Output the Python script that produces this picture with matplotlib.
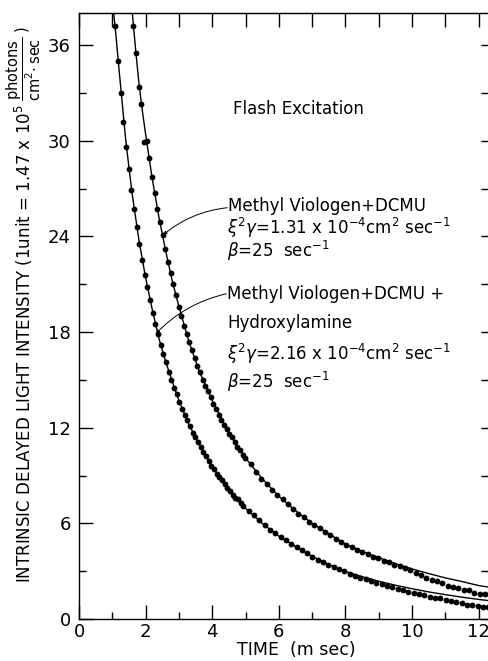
import matplotlib
matplotlib.use("Agg")
import matplotlib.pyplot as plt
from matplotlib.ticker import MultipleLocator

plt.rcParams['font.family'] = ['DejaVu Sans']
plt.rcParams['mathtext.fontset'] = 'dejavusans'

# Methyl Viologen + DCMU: theoretical curve
fit_t_mv = [1.5, 1.6, 1.7, 1.8, 1.9, 2.0, 2.2, 2.4, 2.6, 2.8, 3.0, 3.3, 3.6, 4.0, 4.5,
            5.0, 5.5, 6.0, 6.5, 7.0, 7.5, 8.0, 8.5, 9.0, 9.5, 10.0, 10.5, 11.0, 11.5,
            12.0, 12.4]
fit_mv = [40.6, 38.0, 35.7, 33.6, 31.9, 30.4, 27.6, 25.2, 23.1, 21.2, 19.6, 17.4, 15.6,
          13.7, 11.7, 10.1, 8.8, 7.7, 6.8, 6.0, 5.35, 4.7, 4.25, 3.85, 3.48, 3.14, 2.85,
          2.58, 2.35, 2.1, 1.97]

# Methyl Viologen + DCMU + Hydroxylamine: theoretical curve
fit_t_hx = [1.0, 1.1, 1.2, 1.3, 1.4, 1.5, 1.6, 1.8, 2.0, 2.2, 2.4, 2.6, 2.8, 3.0, 3.3,
            3.6, 4.0, 4.5, 5.0, 5.5, 6.0, 6.5, 7.0, 7.5, 8.0, 8.5, 9.0, 9.5, 10.0, 10.5,
            11.0, 11.5, 12.0, 12.4]
fit_hx = [38.8, 36.8, 34.5, 32.3, 30.1, 28.3, 26.6, 23.75, 21.4, 19.4, 17.6, 16.15, 14.9,
          13.7, 12.2, 11.0, 9.55, 8.1, 6.95, 6.0, 5.2, 4.55, 3.93, 3.42, 2.98, 2.66, 2.37,
          2.12, 1.9, 1.7, 1.53, 1.37, 1.23, 1.13]

# measured points, Methyl Viologen + DCMU
t_mv = [1.63, 1.71, 1.79, 1.87, 1.95, 2.03, 2.11, 2.19, 2.27, 2.35, 2.43, 2.51, 2.59,
        2.67, 2.75, 2.83, 2.91, 2.99, 3.07, 3.15, 3.23, 3.31, 3.39, 3.47, 3.55, 3.63,
        3.71, 3.79, 3.87, 3.95, 4.03, 4.11, 4.19, 4.27, 4.35, 4.43, 4.51, 4.59, 4.67,
        4.75, 4.83, 4.91, 4.99,
        5.15, 5.31, 5.47, 5.63, 5.79, 5.95, 6.11, 6.27, 6.43, 6.59, 6.75, 6.91, 7.07,
        7.23, 7.39, 7.55, 7.71, 7.87, 8.03, 8.19, 8.35, 8.51, 8.67, 8.83, 8.99, 9.15,
        9.31, 9.47, 9.63, 9.79, 9.95, 10.11, 10.27, 10.43, 10.59, 10.75, 10.91, 11.07,
        11.23, 11.39, 11.55, 11.71, 11.87, 12.03, 12.19, 12.35]
y_mv = [37.2, 35.5, 33.4, 32.3, 29.9, 30.0, 28.9, 27.7, 26.7, 25.7, 24.9, 24.1, 23.2,
        22.4, 21.7, 21.0, 20.3, 19.6, 19.0, 18.4, 17.9, 17.4, 16.9, 16.4, 15.9, 15.5,
        15.0, 14.6, 14.3, 13.9, 13.5, 13.2, 12.8, 12.5, 12.2, 11.9, 11.6, 11.4, 11.1,
        10.8, 10.6, 10.3, 10.1,
        9.7, 9.2, 8.8, 8.5, 8.1, 7.8, 7.5, 7.2, 6.9, 6.6, 6.4, 6.1, 5.9,
        5.7, 5.45, 5.25, 5.05, 4.85, 4.65, 4.5, 4.35, 4.2, 4.05, 3.92, 3.8, 3.65,
        3.55, 3.42, 3.3, 3.2, 3.05, 2.9, 2.75, 2.55, 2.45, 2.4, 2.25, 2.1,
        2.0, 1.95, 1.8, 1.8, 1.65, 1.6, 1.55, 1.5]

# measured points, Methyl Viologen + DCMU + Hydroxylamine
t_hx = [1.09, 1.17, 1.25, 1.33, 1.41, 1.49, 1.57, 1.65, 1.73, 1.81, 1.89, 1.97, 2.05,
        2.13, 2.21, 2.29, 2.37, 2.45, 2.53, 2.61, 2.69, 2.77, 2.85, 2.93, 3.01, 3.09,
        3.17, 3.25, 3.33, 3.41, 3.49, 3.57, 3.65, 3.73, 3.81, 3.89, 3.97, 4.05, 4.13,
        4.21, 4.29, 4.37, 4.45, 4.53, 4.61, 4.69, 4.77, 4.85, 4.93,
        5.09, 5.25, 5.41, 5.57, 5.73, 5.89, 6.05, 6.21, 6.37, 6.53, 6.69, 6.85, 7.01,
        7.17, 7.33, 7.49, 7.65, 7.81, 7.97, 8.13, 8.29, 8.45, 8.61, 8.77, 8.93, 9.09,
        9.25, 9.41, 9.57, 9.73, 9.89, 10.05, 10.21, 10.37, 10.53, 10.69, 10.85, 11.01,
        11.17, 11.33, 11.49, 11.65, 11.81, 11.97, 12.13, 12.29]
y_hx = [37.2, 35.0, 33.0, 31.2, 29.6, 28.2, 26.9, 25.7, 24.6, 23.5, 22.5, 21.6, 20.8,
        20.0, 19.2, 18.5, 17.9, 17.2, 16.6, 16.1, 15.5, 15.0, 14.5, 14.1, 13.6, 13.2,
        12.8, 12.5, 12.1, 11.7, 11.4, 11.1, 10.8, 10.5, 10.2, 9.9, 9.6, 9.4, 9.1,
        8.9, 8.7, 8.5, 8.2, 8.0, 7.8, 7.6, 7.5, 7.3, 7.1,
        6.8, 6.5, 6.2, 5.9, 5.6, 5.4, 5.15, 4.93, 4.72, 4.52, 4.33, 4.15, 3.9,
        3.72, 3.57, 3.42, 3.27, 3.13, 3.0, 2.85, 2.72, 2.6, 2.5, 2.4, 2.28, 2.2,
        2.1, 2.0, 1.9, 1.85, 1.72, 1.62, 1.55, 1.5, 1.4, 1.33, 1.3, 1.2,
        1.15, 1.05, 1.0, 0.9, 0.85, 0.8, 0.75, 0.75]

W, H = 489, 661
fig = plt.figure(figsize=(W / 100, H / 100), dpi=100)
ax = fig.add_axes([0.1616, 0.0635, 0.8384, 0.9165])

ax.plot(fit_t_mv, fit_mv, color='black', lw=1.0, zorder=2)
ax.plot(fit_t_hx, fit_hx, color='black', lw=1.0, zorder=2)
ax.plot(t_mv, y_mv, 'o', color='black', ms=4.2, mew=0, zorder=3)
ax.plot(t_hx, y_hx, 'o', color='black', ms=4.2, mew=0, zorder=3)

ax.set_xlim(0, 12.31)
ax.set_ylim(0, 38.0)
ax.spines['right'].set_visible(False)
for s in ['left', 'bottom', 'top']:
    ax.spines[s].set_linewidth(1.0)

ax.xaxis.set_major_locator(MultipleLocator(2))
ax.xaxis.set_minor_locator(MultipleLocator(1))
ax.yaxis.set_major_locator(MultipleLocator(6))
ax.yaxis.set_minor_locator(MultipleLocator(3))
ax.tick_params(which='major', direction='in', length=10, width=1.0, labelsize=13, pad=3)
ax.tick_params(which='minor', direction='in', length=5, width=1.0)
ax.tick_params(axis='y', which='major', pad=6)

# extra ticks along the top and the right edge
top = ax.secondary_xaxis('top')
top.xaxis.set_major_locator(MultipleLocator(1))
top.tick_params(direction='in', length=10, width=1.0, labeltop=False)
right = ax.secondary_yaxis('right')
right.yaxis.set_major_locator(MultipleLocator(3))
right.tick_params(direction='in', length=6, width=1.0, labelright=False)
right.spines['right'].set_visible(False)

fig.text(296 / W, 1 - 650 / H, 'TIME  (m sec)', ha='center', va='center', fontsize=12.5)

# y label: main words, then the unit fraction placed right after them
ylab = fig.text(24 / W, 1 - 583 / H,
                r'INTRINSIC DELAYED LIGHT INTENSITY (1unit = 1.47 x 10$^5$',
                rotation=90, rotation_mode='anchor', ha='left', va='center',
                fontsize=12)
fig.canvas.draw()
bb = ylab.get_window_extent(fig.canvas.get_renderer())
fig.text(24 / W, (bb.y1 + 3) / H,
         r'$\mathregular{\dfrac{photons}{cm^2\!\cdot sec}}$ )',
         rotation=90, rotation_mode='anchor', ha='left', va='center',
         fontsize=10.5)

txt = dict(fontsize=12, ha='left', va='center')
ax.text(4.62, 32.0, 'Flash Excitation', **txt)
ax.text(4.47, 25.9, 'Methyl Viologen+DCMU', **txt)
ax.text(4.45, 24.5, r'$\xi^2\gamma$=1.31 x 10$^{-4}$cm$^2$ sec$^{-1}$', **txt)
ax.text(4.45, 23.1, r'$\beta$=25  sec$^{-1}$', **txt)
ax.text(4.45, 20.4, 'Methyl Viologen+DCMU +', **txt)
ax.text(4.45, 18.6, 'Hydroxylamine', **txt)
ax.text(4.45, 16.6, r'$\xi^2\gamma$=2.16 x 10$^{-4}$cm$^2$ sec$^{-1}$', **txt)
ax.text(4.45, 14.9, r'$\beta$=25  sec$^{-1}$', **txt)

arrow = dict(arrowstyle='-|>', lw=0.7, color='black', mutation_scale=5,
             connectionstyle='arc3,rad=0.15', shrinkA=0, shrinkB=0)
ax.annotate('', xy=(2.53, 24.1), xytext=(4.45, 25.8), arrowprops=arrow)
ax.annotate('', xy=(2.31, 17.9), xytext=(4.42, 20.4), arrowprops=arrow)

fig.savefig('out.png', dpi=100)
